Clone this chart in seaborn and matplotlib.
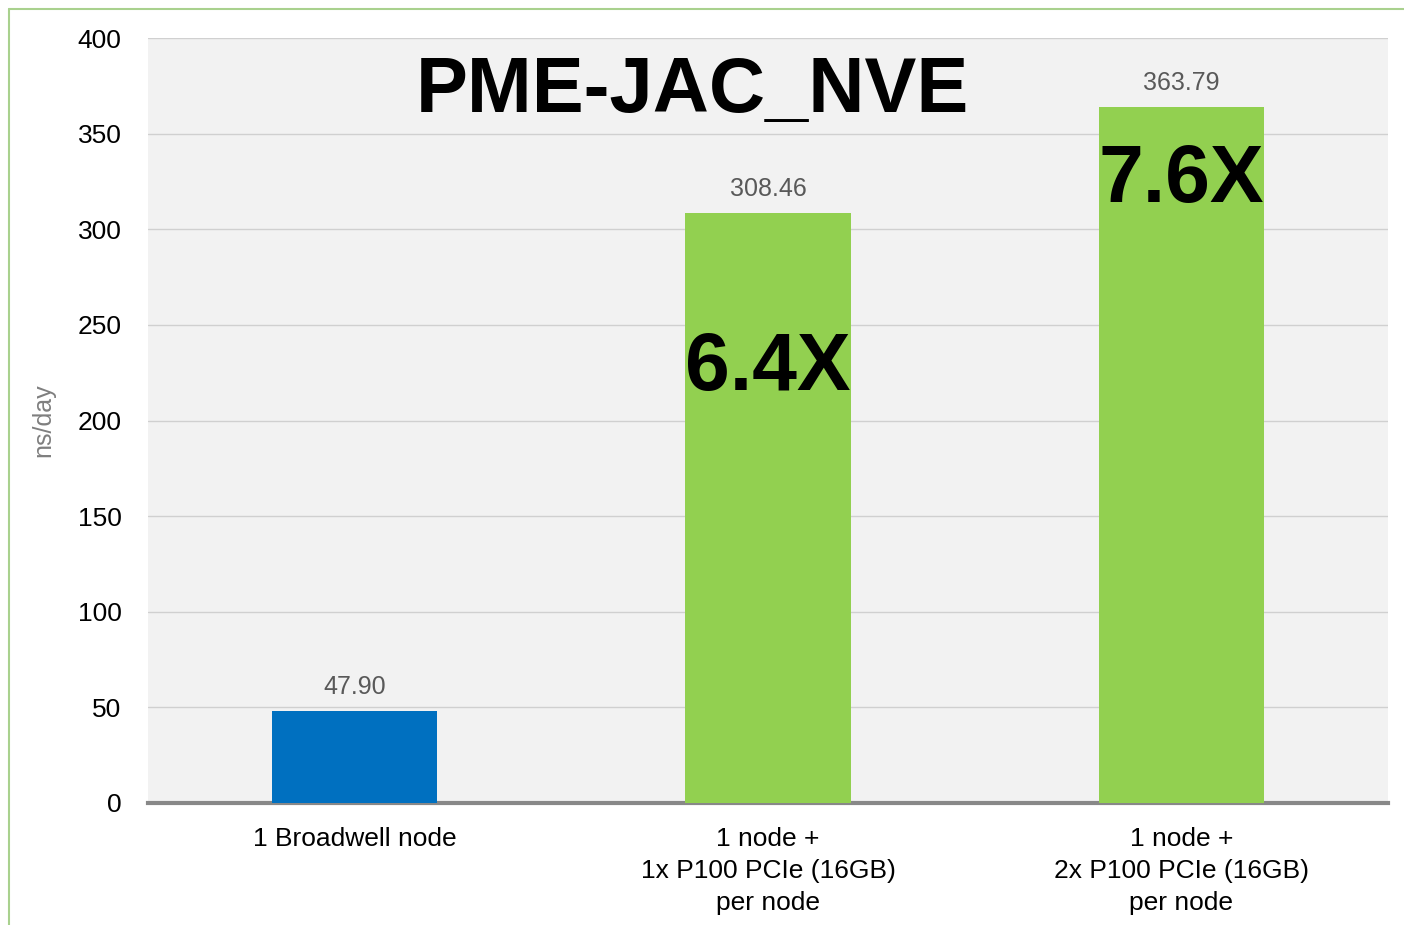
import matplotlib
matplotlib.use("Agg")
from matplotlib import pyplot as plt
import seaborn as sns
import pandas as pd

categories = ["1 Broadwell node",
              "1 node +\n1x P100 PCIe (16GB)\nper node",
              "1 node +\n2x P100 PCIe (16GB)\nper node"]
values = [47.90, 308.46, 363.79]
value_labels = ["47.90", "308.46", "363.79"]
speedups = ["", "6.4X", "7.6X"]
speedup_y = [0, 227, 325]
bar_colors = ["#0070c0", "#92d050", "#92d050"]
title = "PME-JAC_NVE"

sns.set_style("white")
plt.rcParams["font.family"] = ["Liberation Sans", "DejaVu Sans"]

df = pd.DataFrame({"cat": categories, "val": values})

fig = plt.figure(figsize=(14.04, 9.25), dpi=100)
ax = fig.add_axes([148 / 1404, 1 - 803 / 925, (1388 - 148) / 1404, (803 - 38) / 925])
ax.set_facecolor("#f2f2f2")

sns.barplot(data=df, x="cat", y="val", hue="cat", palette=bar_colors,
            width=0.4, legend=False, ax=ax, saturation=1, zorder=3, linewidth=0)

ax.set_ylim(0, 400)
ax.set_yticks(range(0, 401, 50))
ax.grid(axis="y", color="#d0d0d0", linewidth=1, zorder=0)
ax.set_axisbelow(True)
for s in ["top", "right", "left"]:
    ax.spines[s].set_visible(False)
ax.spines["bottom"].set_color("#888888")
ax.spines["bottom"].set_linewidth(3)
ax.tick_params(axis="both", length=0, labelsize=19, colors="black")
ax.tick_params(axis="y", pad=19)
ax.tick_params(axis="x", pad=17)
ax.set_xlabel("")
ax.set_ylabel("ns/day", fontsize=18, color="#7f7f7f", labelpad=16)
plt.setp(ax.get_xticklabels(), linespacing=1.42)

for i, (v, lab) in enumerate(zip(values, value_labels)):
    ax.annotate(lab, (i, v), xytext=(0, 9), textcoords="offset points",
                ha="center", va="bottom", fontsize=18, color="#595959")
for i, (s, y) in enumerate(zip(speedups, speedup_y)):
    if s:
        ax.text(i, y, s, ha="center", va="center", fontsize=58,
                fontweight="bold", color="black")

ax.text(0.439, 0.93, title, transform=ax.transAxes, ha="center", va="center",
        fontsize=56, fontweight="bold", color="black")

# thin green frame on the left and top of the slide
fig.add_artist(plt.Line2D([9 / 1404, 9 / 1404], [0, 1 - 9 / 925], color="#a9d18e", linewidth=1.5))
fig.add_artist(plt.Line2D([9 / 1404, 1], [1 - 9 / 925, 1 - 9 / 925], color="#a9d18e", linewidth=1.5))

fig.savefig("out.png", dpi=100)
